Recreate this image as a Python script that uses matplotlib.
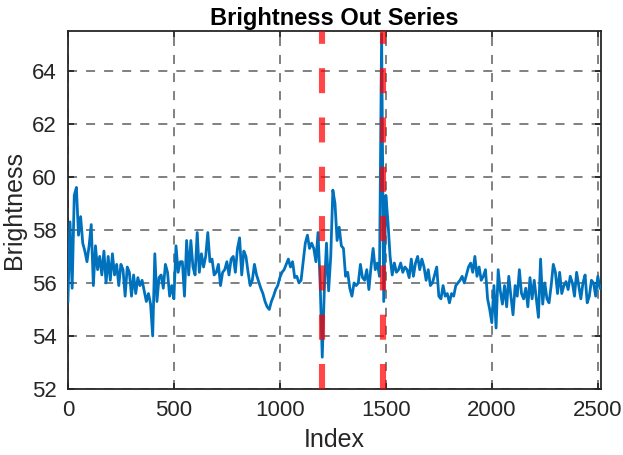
import numpy as np
import matplotlib
matplotlib.use("Agg")
import matplotlib.pyplot as plt

# brightness samples, read every 10 index steps
STEP = 10
brightness = [
    55.3, 58.3, 55.8, 59.3, 59.6, 57.8, 58.5, 57.5, 57.2, 56.8,
    57.4, 58.2, 55.9, 57.4, 56.5, 57.0, 56.3, 57.2, 56.0, 57.0,
    56.1, 57.1, 56.3, 56.7, 55.9, 56.7, 56.5, 55.5, 56.6, 56.4,
    55.5, 56.3, 55.6, 56.2, 55.9, 56.1, 55.7, 55.3, 55.6, 55.2,
    54.0, 57.1, 55.3, 56.2, 56.3, 55.8, 56.7, 56.4, 55.5, 55.9,
    55.4, 57.4, 56.4, 56.8, 56.8, 55.5, 57.6, 56.3, 57.6, 56.6,
    56.3, 57.9, 56.4, 57.1, 56.6, 57.0, 57.9, 56.8, 56.9, 56.3,
    56.4, 56.7, 55.9, 56.4, 56.5, 56.8, 56.3, 56.9, 57.0, 56.4,
    57.3, 57.7, 56.3, 57.2, 57.0, 56.4, 55.9, 56.1, 56.7, 56.3,
    56.05, 55.8, 55.6, 55.3, 55.1, 55.0, 55.3, 55.5, 55.75, 55.9,
    56.2, 56.4, 56.5, 56.7, 56.9, 56.6, 56.8, 56.2, 56.25, 56.0,
    56.1, 56.8, 57.5, 57.8, 57.3, 57.5, 57.3, 56.8, 57.9, 56.0,
    53.2, 55.8, 57.5, 55.7, 57.0, 59.5, 59.0, 57.6, 58.1, 57.4,
    57.3, 56.25, 56.4, 55.8, 55.5, 56.0, 55.9, 56.0, 56.7, 56.2,
    56.1, 56.5, 55.75, 56.6, 57.3, 56.5, 56.75, 56.25, 65.4, 55.3,
    59.3, 58.3, 57.0, 56.3, 56.75, 56.4, 56.5, 56.75, 56.4, 56.6,
    56.5, 56.2, 56.9, 56.25, 56.75, 57.0, 56.5, 56.9, 56.6, 56.1,
    56.5, 55.9, 56.0, 56.3, 56.6, 55.5, 55.4, 55.9, 55.5, 55.6,
    55.25, 55.6, 55.5, 55.9, 56.0, 56.1, 56.25, 56.0, 56.3, 56.6,
    56.75, 56.4, 57.0, 56.25, 56.6, 56.1, 56.25, 56.5, 55.4, 55.0,
    54.5, 55.9, 54.3, 56.5, 55.7, 55.2, 55.9, 55.1, 56.25, 55.5,
    54.8, 55.9, 55.5, 56.5, 55.6, 55.4, 55.8, 55.1, 56.2, 55.4,
    56.1, 55.4, 54.7, 56.9, 55.2, 56.0, 55.4, 55.25, 55.9, 56.7,
    56.4, 55.6, 56.4, 55.6, 55.9, 56.05, 55.75, 56.25, 56.0, 55.5,
    56.4, 55.9, 55.4, 56.0, 56.3, 55.25, 55.5, 56.1, 56.0, 55.5,
    56.25, 55.8,
]
index = np.arange(len(brightness)) * STEP

# change points marked in red
change_points = [1200, 1485]

x_ticks = [0, 500, 1000, 1500, 2000, 2500]
y_ticks = [52, 54, 56, 58, 60, 62, 64]
x_max = 2516
y_min, y_max = 52, 65.5

plt.rcParams['font.family'] = ['Liberation Sans', 'DejaVu Sans']
plt.rcParams['lines.scale_dashes'] = False

fig = plt.figure(figsize=(6.23, 4.55), dpi=100)
ax = fig.add_axes([0.109, 0.145, 0.856, 0.787])

ax.plot(index, brightness, color='#0072BD', lw=2.0, zorder=3)

for cp in change_points:
    ax.plot([cp, cp], [y_min, y_max], color='red', alpha=0.72, lw=4.4,
            linestyle=(0, (18, 17.5)), solid_capstyle='butt',
            dash_capstyle='butt', zorder=4)

ax.set_xlim(0, x_max)
ax.set_ylim(y_min, y_max)
ax.set_xticks(x_ticks)
ax.set_yticks(y_ticks)

ax.grid(True, color='#808080', lw=1.4, linestyle=(0, (6.5, 6.5)))
ax.set_axisbelow(True)

for s in ax.spines.values():
    s.set_color('#262626')
    s.set_linewidth(1.3)
ax.tick_params(direction='in', length=4, width=1.3, color='#262626',
               top=True, right=True, labelsize=16, labelcolor='#262626', pad=8)

ax.set_xlabel('Index', fontsize=18, color='#262626', labelpad=5)
ax.set_ylabel('Brightness', fontsize=18, color='#262626', labelpad=4)
ax.set_title('Brightness Out Series', fontsize=17, fontweight='bold', pad=4)

fig.savefig('out.png', dpi=100)
